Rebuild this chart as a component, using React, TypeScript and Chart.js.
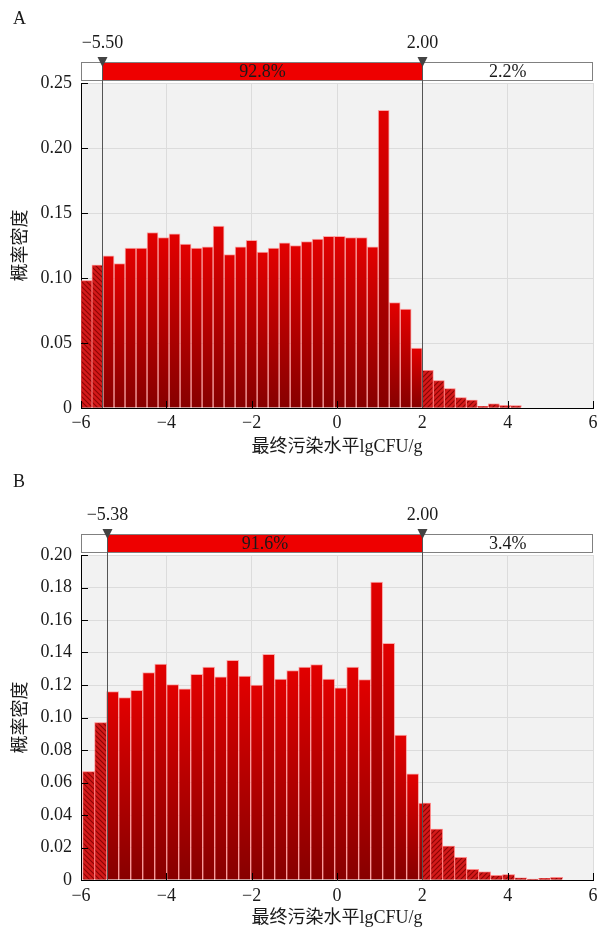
import React, { useEffect, useRef } from 'react';
import { Chart, registerables } from 'chart.js';

Chart.register(...registerables);

// ---------- shared text ----------
const xTitle = '最终污染水平lgCFU/g';
const yTitle = '概率密度';
const xMin = -6;
const xMax = 6;
const xStep = 2;

// ---------- panel A ----------
const letterA = 'A';
const binStartA = -6;
const binWidthA = 0.258;
const densityA = [
  0.098, 0.110, 0.117, 0.111, 0.123, 0.123, 0.135, 0.131, 0.134, 0.126,
  0.123, 0.124, 0.140, 0.118, 0.124, 0.129, 0.120, 0.123, 0.127, 0.125,
  0.128, 0.130, 0.132, 0.132, 0.131, 0.131, 0.124, 0.229, 0.081, 0.076,
  0.046, 0.029, 0.021, 0.015, 0.008, 0.006, 0.0013, 0.0033, 0.0021, 0.0018,
];
const boundsA = [-5.5, 2.0];
const boundLabelsA = ['\u22125.50', '2.00'];
const sharesA = ['5.0%', '92.8%', '2.2%'];
const yMaxA = 0.25;
const yStepA = 0.05;

// ---------- panel B ----------
const letterB = 'B';
const binStartB = -5.96;
const binWidthB = 0.2812;
const densityB = [
  0.0667, 0.0968, 0.1159, 0.1122, 0.1167, 0.1276, 0.1329, 0.1202, 0.1177, 0.1266,
  0.1311, 0.1251, 0.1352, 0.1255, 0.1200, 0.1389, 0.1237, 0.1288, 0.1311, 0.1325,
  0.1237, 0.1182, 0.1311, 0.1233, 0.1834, 0.1456, 0.0892, 0.0654, 0.0474, 0.0314,
  0.0209, 0.0139, 0.0066, 0.0051, 0.0029, 0.0033, 0.0014, 0.0006, 0.0010, 0.0016,
];
const boundsB = [-5.38, 2.0];
const boundLabelsB = ['\u22125.38', '2.00'];
const sharesB = ['5.0%', '91.6%', '3.4%'];
const yMaxB = 0.2;
const yStepB = 0.02;

// ---------- styles ----------
const SERIF = '"Liberation Serif", "Times New Roman", serif';
const MIXED = '"Liberation Serif", "Noto Sans CJK SC", serif';
const TEXT = '#1a1a1a';

type Layout = {
  height: number;
  plotTop: number;
  plotBottom: number;
  letterY: number;
  tickPad: number;
  titlePadBottom: number;
};

type PanelProps = {
  letter: string;
  binStart: number;
  binWidth: number;
  density: number[];
  bounds: number[];
  boundLabels: string[];
  shares: string[];
  yMax: number;
  yStep: number;
  layout: Layout;
};

function makeHatch(dir: number): CanvasPattern | string {
  const c = document.createElement('canvas');
  c.width = 5;
  c.height = 5;
  const g = c.getContext('2d');
  if (!g) return '#c00';
  g.fillStyle = '#d41a1a';
  g.fillRect(0, 0, 5, 5);
  g.strokeStyle = '#8c0404';
  g.lineWidth = 1.1;
  g.beginPath();
  if (dir > 0) {
    g.moveTo(-1, 6); g.lineTo(6, -1);
    g.moveTo(-3, 3); g.lineTo(3, -3);
    g.moveTo(2, 8); g.lineTo(8, 2);
  } else {
    g.moveTo(-1, -1); g.lineTo(6, 6);
    g.moveTo(-3, 2); g.lineTo(3, 8);
    g.moveTo(2, -3); g.lineTo(8, 3);
  }
  g.stroke();
  const p = g.createPattern(c, 'repeat');
  return p || '#c00';
}

// dataset indices: 0 = hatched left tail, 1 = hatched right tail, 2 = solid (drawn first, underneath)
const HATCH_LEFT = 0;
const HATCH_RIGHT = 1;
const SOLID = 2;

function HistPanel(p: PanelProps) {
  const ref = useRef<HTMLCanvasElement | null>(null);
  useEffect(() => {
    const canvas = ref.current;
    if (!canvas) return;
    const L = p.layout;
    const points = p.density.map((v, i) => ({ x: p.binStart + p.binWidth * (i + 0.5), y: v }));
    const [lo, hi] = p.bounds;

    const gradientFill = (ctx: any) => {
      const chart = ctx.chart;
      const a = chart.chartArea;
      if (!a || !ctx.parsed) return '#b00000';
      const yTop = chart.scales.y.getPixelForValue(ctx.parsed.y);
      const g = chart.ctx.createLinearGradient(0, yTop, 0, a.bottom);
      g.addColorStop(0, '#e20000');
      g.addColorStop(1, '#870000');
      return g;
    };

    const overlay = {
      id: 'overlay',
      beforeDraw(chart: any) {
        const { ctx, chartArea: a } = chart;
        ctx.save();
        ctx.fillStyle = '#f2f2f2';
        ctx.fillRect(a.left, a.top, a.right - a.left, a.bottom - a.top);
        ctx.restore();
      },
      beforeDatasetDraw(chart: any, args: any) {
        if (args.index === SOLID) return;
        const { ctx, chartArea: a } = chart;
        const x = chart.scales.x;
        ctx.save();
        ctx.beginPath();
        if (args.index === HATCH_LEFT) {
          const xl = x.getPixelForValue(lo);
          ctx.rect(a.left, a.top - 2, xl - a.left, a.bottom - a.top + 4);
        } else {
          const xh = x.getPixelForValue(hi);
          ctx.rect(xh, a.top - 2, a.right - xh, a.bottom - a.top + 4);
        }
        ctx.clip();
      },
      afterDatasetDraw(chart: any, args: any) {
        if (args.index === SOLID) return;
        chart.ctx.restore();
      },
      afterDatasetsDraw(chart: any) {
        const { ctx, chartArea: a } = chart;
        const x = chart.scales.x;
        const y = chart.scales.y;
        ctx.save();
        ctx.strokeStyle = '#000';
        ctx.lineWidth = 1;
        ctx.beginPath();
        x.ticks.forEach((t: any) => {
          const px = Math.round(x.getPixelForValue(t.value)) + 0.5;
          ctx.moveTo(px, a.bottom);
          ctx.lineTo(px, a.bottom - 7);
        });
        y.ticks.forEach((t: any) => {
          const py = Math.round(y.getPixelForValue(t.value)) + 0.5;
          ctx.moveTo(a.left, py);
          ctx.lineTo(a.left + 7, py);
        });
        ctx.stroke();
        ctx.restore();
      },
      afterDraw(chart: any) {
        const { ctx, chartArea: a } = chart;
        const x = chart.scales.x;
        const xl = Math.round(x.getPixelForValue(lo)) + 0.5;
        const xh = Math.round(x.getPixelForValue(hi)) + 0.5;
        const boxTop = a.top - 21;
        const boxBottom = a.top - 3;
        ctx.save();
        ctx.fillStyle = '#ffffff';
        ctx.fillRect(a.left, boxTop, a.right - a.left, boxBottom - boxTop);
        ctx.fillStyle = '#ee0000';
        ctx.fillRect(xl, boxTop, xh - xl, boxBottom - boxTop);
        ctx.strokeStyle = '#808080';
        ctx.lineWidth = 1;
        ctx.strokeRect(Math.round(a.left) + 0.5, boxTop + 0.5, Math.round(a.right - a.left) - 1, boxBottom - boxTop);
        ctx.strokeStyle = '#555555';
        ctx.beginPath();
        ctx.moveTo(xl, boxTop);
        ctx.lineTo(xl, a.bottom);
        ctx.moveTo(xh, boxTop);
        ctx.lineTo(xh, a.bottom);
        ctx.stroke();
        ctx.font = `18px ${SERIF}`;
        ctx.fillStyle = TEXT;
        ctx.textAlign = 'center';
        ctx.textBaseline = 'middle';
        const segs = [[a.left, xl], [xl, xh], [xh, a.right]];
        segs.forEach((s, i) => {
          const w = s[1] - s[0];
          const txt = p.shares[i];
          if (ctx.measureText(txt).width + 4 < w) {
            ctx.fillText(txt, (s[0] + s[1]) / 2, (boxTop + boxBottom) / 2 + 1);
          }
        });
        ctx.fillStyle = '#434343';
        [xl, xh].forEach((px) => {
          ctx.beginPath();
          ctx.moveTo(px - 5, a.top - 26);
          ctx.lineTo(px + 5, a.top - 26);
          ctx.lineTo(px, a.top - 16);
          ctx.closePath();
          ctx.fill();
        });
        ctx.fillStyle = TEXT;
        ctx.fillText(p.boundLabels[0], xl, a.top - 40);
        ctx.fillText(p.boundLabels[1], xh, a.top - 40);
        ctx.textAlign = 'left';
        ctx.fillText(p.letter, 13, L.letterY);
        ctx.restore();
      },
    };

    const hatchLeft = makeHatch(-1);
    const hatchRight = makeHatch(1);
    const edge = 'rgba(255,110,110,0.55)';
    const common = { borderColor: edge, borderWidth: 1, grouped: false, barPercentage: 1, categoryPercentage: 1 };

    const datasets: any[] = [];
    datasets[HATCH_LEFT] = { data: points, backgroundColor: hatchLeft, ...common };
    datasets[HATCH_RIGHT] = { data: points, backgroundColor: hatchRight, ...common };
    datasets[SOLID] = { data: points, backgroundColor: gradientFill, ...common };

    const chart = new Chart(canvas, {
      type: 'bar',
      data: { datasets },
      options: {
        responsive: false,
        animation: false,
        events: [],
        layout: { padding: { top: L.plotTop, left: 0, right: 13, bottom: 0 } },
        plugins: { legend: { display: false }, tooltip: { enabled: false } },
        scales: {
          x: {
            type: 'linear',
            min: xMin,
            max: xMax,
            offset: false,
            grid: { color: '#dcdcdc', drawTicks: false, offset: false },
            border: { color: '#000', width: 1 },
            ticks: {
              stepSize: xStep,
              padding: L.tickPad,
              color: TEXT,
              font: { family: SERIF, size: 18 },
              maxRotation: 0,
              callback: (v: any) => (Number(v) < 0 ? '\u2212' + Math.abs(Number(v)) : String(v)),
            },
            title: {
              display: true,
              text: xTitle,
              color: TEXT,
              font: { family: MIXED, size: 18 },
              padding: { top: 0, bottom: L.titlePadBottom },
            },
            afterFit: (s: any) => { s.height = L.height - L.plotBottom; },
          },
          y: {
            min: 0,
            max: p.yMax,
            grid: { color: '#dcdcdc', drawTicks: false },
            border: { color: '#000', width: 1 },
            ticks: {
              stepSize: p.yStep,
              padding: 9,
              color: TEXT,
              font: { family: SERIF, size: 18 },
              callback: (v: any) => (Number(v) === 0 ? '0' : Number(v).toFixed(2)),
            },
            title: {
              display: true,
              text: yTitle,
              color: TEXT,
              font: { family: MIXED, size: 18 },
              padding: { top: 10, bottom: 0 },
            },
            afterFit: (s: any) => { s.width = 81; },
          },
        },
      } as any,
      plugins: [overlay],
    });
    return () => chart.destroy();
  }, []);
  return (
    <div style={{ width: 606, height: p.layout.height }}>
      <canvas ref={ref} width={606} height={p.layout.height} style={{ display: 'block' }} />
    </div>
  );
}

const layoutA: Layout = { height: 465, plotTop: 83, plotBottom: 408, letterY: 19, tickPad: 4, titlePadBottom: 7 };
const layoutB: Layout = { height: 466, plotTop: 90, plotBottom: 415, letterY: 17, tickPad: 5, titlePadBottom: 2 };

export default function App() {
  useEffect(() => {
    document.body.style.margin = '0';
  }, []);
  return (
    <div style={{ width: 606, background: '#fff' }}>
      <HistPanel letter={letterA} binStart={binStartA} binWidth={binWidthA} density={densityA}
        bounds={boundsA} boundLabels={boundLabelsA} shares={sharesA} yMax={yMaxA} yStep={yStepA} layout={layoutA} />
      <HistPanel letter={letterB} binStart={binStartB} binWidth={binWidthB} density={densityB}
        bounds={boundsB} boundLabels={boundLabelsB} shares={sharesB} yMax={yMaxB} yStep={yStepB} layout={layoutB} />
    </div>
  );
}
